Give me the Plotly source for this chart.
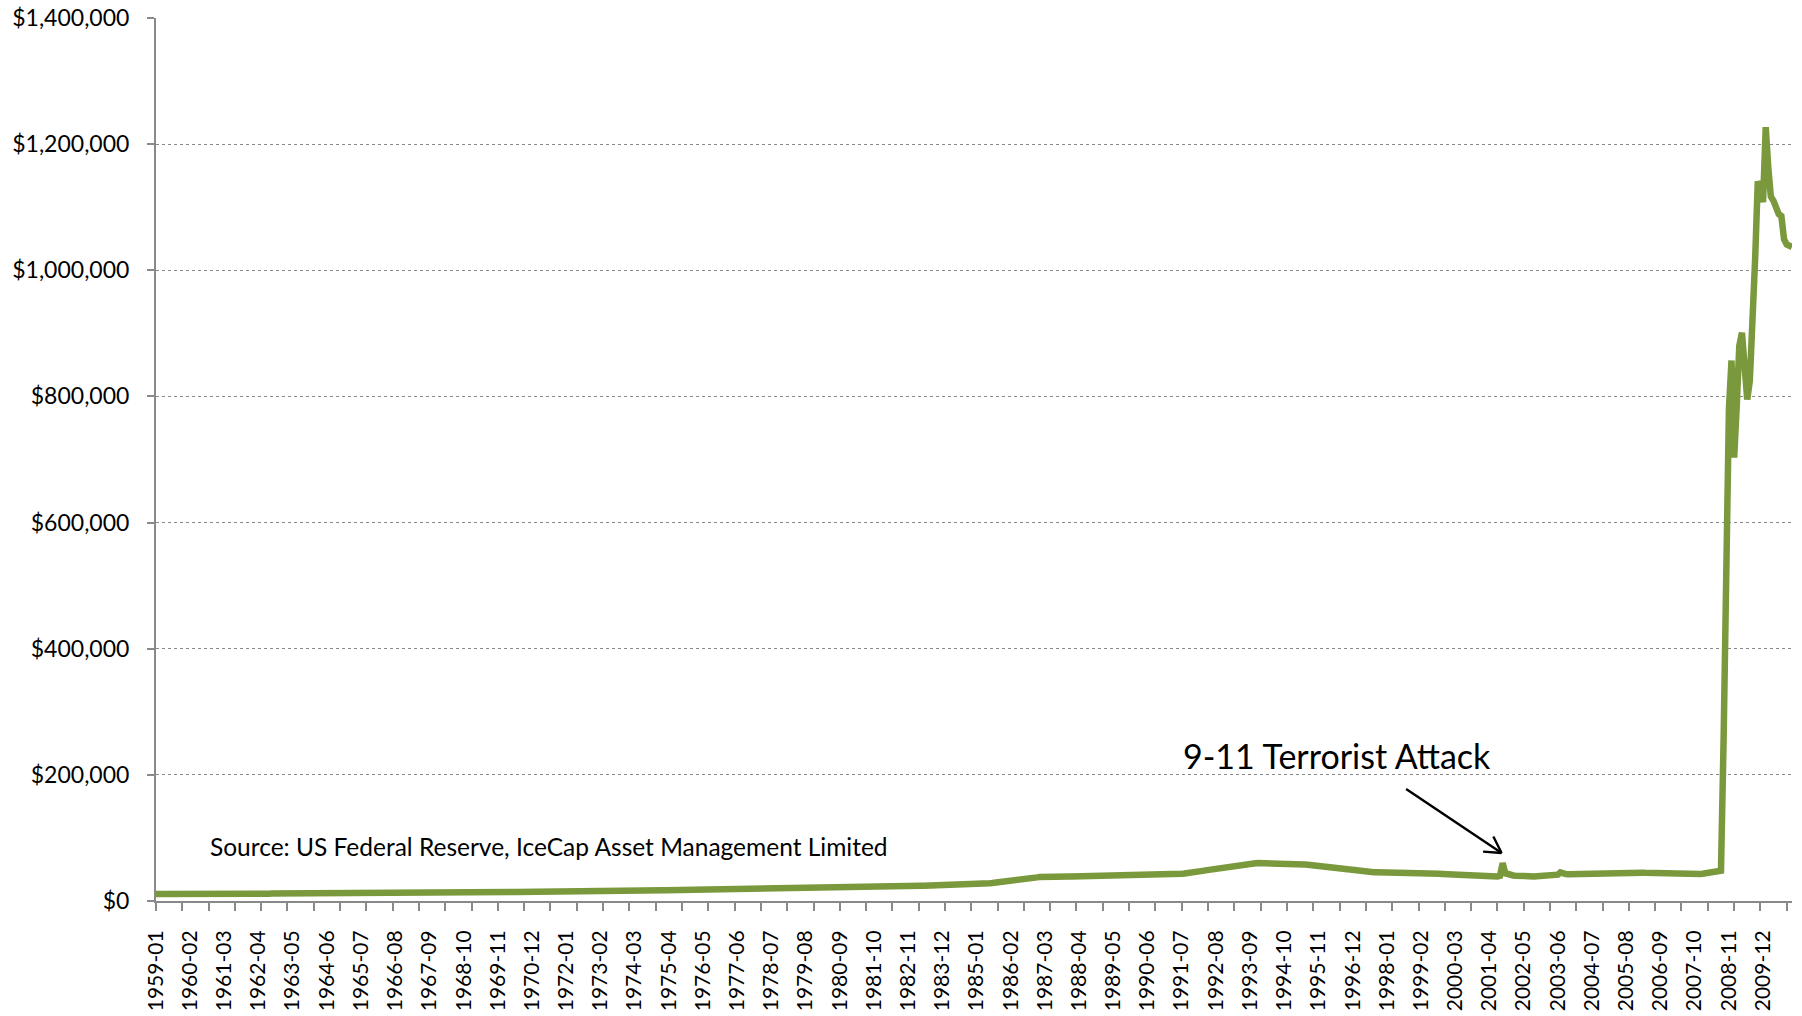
import plotly.graph_objects as go

# Total reserves, $ millions, monthly from 1959-01 to 2010-11
y1959_1969 = [
    11100, 11050, 11000, 11050, 11000, 10950, 11000, 10950, 10900, 10950, 11000, 11050,
    11000, 10900, 10850, 10900, 10850, 10900, 10950, 11050, 11150, 11250, 11350, 11400,
    11300, 11200, 11150, 11200, 11250, 11300, 11300, 11350, 11400, 11450, 11500, 11600,
    11550, 11500, 11500, 11550, 11550, 11600, 11600, 11650, 11700, 11700, 11750, 11800,
    11750, 11700, 11700, 11750, 11800, 11800, 11850, 11850, 11900, 11950, 11950, 12000,
    11950, 11950, 12000, 12000, 12050, 12050, 12100, 12100, 12150, 12200, 12250, 12300,
    12250, 12250, 12300, 12300, 12350, 12350, 12400, 12450, 12450, 12500, 12550, 12600,
    12550, 12500, 12500, 12450, 12450, 12400, 12400, 12350, 12350, 12400, 12450, 12500,
    12550, 12600, 12700, 12750, 12850, 12900, 13000, 13050, 13150, 13200, 13300, 13400,
    13400, 13450, 13500, 13550, 13600, 13650, 13700, 13750, 13850, 13900, 14000, 14100,
    14100, 14050, 14000, 14000, 13950, 13900, 13900, 13850, 13850, 13900, 13950, 14000,
]
y1970_1979 = [
    14000, 14050, 14100, 14200, 14250, 14300, 14400, 14500, 14550, 14650, 14750, 14850,
    14900, 15000, 15100, 15150, 15250, 15350, 15400, 15450, 15500, 15550, 15600, 15700,
    15750, 15800, 15850, 15900, 15950, 16000, 16050, 16100, 16150, 16200, 16300, 16400,
    16350, 16300, 16300, 16350, 16400, 16450, 16500, 16550, 16550, 16600, 16650, 16700,
    16750, 16800, 16850, 16900, 16950, 17000, 17050, 17100, 17150, 17200, 17250, 17300,
    17250, 17200, 17200, 17250, 17300, 17350, 17350, 17400, 17450, 17500, 17550, 17600,
    17600, 17650, 17650, 17700, 17750, 17750, 17800, 17850, 17900, 17950, 18000, 18100,
    18150, 18200, 18250, 18300, 18350, 18400, 18450, 18500, 18550, 18650, 18750, 18850,
    18900, 18950, 19000, 19050, 19100, 19150, 19250, 19350, 19400, 19450, 19550, 19650,
    19700, 19750, 19800, 19850, 19900, 19950, 20000, 20050, 20100, 20150, 20250, 20350,
]
y1980_1989 = [
    20400, 20500, 20550, 20450, 20350, 20450, 20650, 20850, 21000, 21150, 21300, 21450,
    21500, 21400, 21300, 21350, 21450, 21500, 21550, 21600, 21650, 21750, 21850, 22000,
    21950, 21900, 21850, 21850, 21900, 21950, 22000, 22050, 22300, 22650, 23050, 23400,
    23700, 23900, 24050, 24150, 24250, 24300, 24350, 24400, 24450, 24500, 24550, 24650,
    24700, 24750, 24800, 24850, 24900, 24950, 25000, 25100, 25200, 25400, 25700, 26000,
    26300, 26600, 26900, 27200, 27600, 28000, 28400, 28800, 29200, 29600, 30100, 30600,
    31000, 31400, 31800, 32300, 32800, 33300, 33900, 34500, 35100, 35800, 36600, 37500,
    38200, 38500, 38700, 38900, 39100, 39000, 38900, 38800, 38700, 38700, 38800, 38900,
    39000, 39100, 39200, 39300, 39400, 39500, 39600, 39700, 39800, 39900, 40000, 40100,
    40000, 39700, 39400, 39100, 38800, 38600, 38500, 38600, 38800, 39000, 39300, 39600,
]
y1990_1999 = [
    39800, 40000, 40300, 40500, 40700, 40800, 40900, 41000, 41100, 41200, 41300, 41500,
    41700, 41900, 42100, 42300, 42600, 42900, 43200, 43500, 43800, 44200, 44800, 45500,
    46300, 47100, 47800, 48500, 49200, 49900, 50700, 51500, 52300, 53100, 53900, 54700,
    55300, 55900, 56500, 57100, 57700, 58200, 58700, 59100, 59500, 59800, 60000, 60100,
    60100, 60000, 60000, 59900, 59900, 59800, 59800, 59700, 59600, 59500, 59400, 59300,
    59100, 58900, 58700, 58400, 58100, 57800, 57500, 57200, 56900, 56600, 56300, 56000,
    55700, 55300, 54900, 54500, 54000, 53400, 52700, 52000, 51300, 50500, 49800, 49100,
    48400, 47800, 47200, 46700, 46300, 46000, 45800, 45700, 45600, 45600, 45500, 45500,
    45400, 45300, 45300, 45200, 45100, 45000, 44900, 44800, 44700, 44600, 44500, 44400,
    44300, 44200, 44100, 44000, 43900, 43800, 43600, 43400, 43200, 43000, 42800, 42600,
]
y2000_2010 = [
    41800, 41500, 41200, 40900, 40600, 40300, 40000, 39800, 39600, 39400, 39200, 39000,
    38900, 38800, 38700, 38600, 38500, 38700, 38900, 40000, 60000, 44000, 42000, 41000,
    40500, 40000, 39600, 39200, 38900, 38700, 38600, 38800, 39000, 39300, 39600, 39900,
    40200, 40400, 40600, 40800, 41200, 41800, 45500, 43500, 42800, 42600, 42700, 43000,
    43300, 43700, 44100, 44500, 44800, 45100, 45400, 45600, 45700, 45800, 45900, 46000,
    46100, 46000, 46000, 45900, 45800, 45700, 45600, 45500, 45400, 45300, 45200, 45100,
    45000, 44800, 44600, 44400, 44200, 44000, 43800, 43600, 43400, 43200, 43000, 42800,
    42600, 42400, 42200, 42000, 41800, 41600, 41400, 41300, 41400, 41800, 42300, 42800,
    43300, 43800, 44200, 44600, 45000, 46000, 46500, 48000, 260000, 480000, 780000, 857000,
    703000, 790000, 880000, 901000, 850000, 795000, 825000, 905000, 1020000, 1141000, 1130000, 1108000,
    1227000, 1160000, 1117000, 1110000, 1100000, 1089000, 1086000, 1049000, 1041000, 1039000, 1037000,
]
reserves = y1959_1969 + y1970_1979 + y1980_1989 + y1990_1999 + y2000_2010

months = [f"{y}-{m:02d}" for y in range(1959, 2011) for m in range(1, 13)][:len(reserves)]
tick_labels = months[::13]

source_text = "Source: US Federal Reserve, IceCap Asset Management Limited"
event_text = "9-11 Terrorist Attack"

FONT = "Lato, 'Open Sans', sans-serif"
GRAY = "#898989"

fig = go.Figure()
fig.add_trace(go.Scatter(
    x=months, y=reserves, mode="lines",
    line=dict(color="#7A983C", width=6.5),
    hoverinfo="skip", showlegend=False,
))

fig.update_layout(
    width=1802, height=1016,
    margin=dict(l=156, r=10, t=18, b=115, autoexpand=False),
    paper_bgcolor="white", plot_bgcolor="white",
    font=dict(family=FONT, color="black"),
    showlegend=False,
)
fig.update_xaxes(
    type="date", automargin=False,
    range=[months[0] + "-01", months[-1] + "-01"],
    tickmode="array", tickvals=[t + "-01" for t in tick_labels], ticktext=tick_labels,
    tickangle=-90, tickfont=dict(size=21, family=FONT, color="black"),
    ticks="", ticklabelstandoff=19,
    showgrid=False, showline=True, linecolor=GRAY, linewidth=2,
    minor=dict(ticks="outside", dtick="M10", tick0=months[0] + "-01",
               ticklen=8, tickwidth=2, tickcolor=GRAY, showgrid=False),
    zeroline=False,
)
fig.update_yaxes(
    automargin=False,
    range=[0, 1400000], dtick=200000, tick0=0,
    tickprefix="$", tickformat=",.0f",
    tickfont=dict(size=23, family=FONT, color="black"),
    ticks="outside", ticklen=7, tickwidth=2, tickcolor=GRAY,
    ticklabelstandoff=13,
    showline=True, linecolor=GRAY, linewidth=2,
    showgrid=True, gridcolor=GRAY, gridwidth=1.2, griddash="dot",
    zeroline=False,
)

fig.add_annotation(
    xref="paper", yref="paper", x=0.0318, y=0.0612,
    text=source_text, showarrow=False, xanchor="left", yanchor="middle",
    font=dict(size=24.5, family=FONT, color="black"),
)
fig.add_annotation(
    xref="paper", yref="paper", x=0.722, y=0.165,
    text=event_text, showarrow=False, xanchor="center", yanchor="middle",
    font=dict(size=34, family=FONT, color="black"),
)
# arrow: shaft plus two arms forming an open V head at the tip
tip_x, tip_y = 0.8225, 0.0544
for ax_off, ay_off in [(-97, -65), (-9, -18), (-20, -1.5)]:
    fig.add_annotation(
        xref="paper", yref="paper", x=tip_x, y=tip_y,
        text="", showarrow=True, ax=ax_off, ay=ay_off,
        arrowhead=0, arrowwidth=2.4, arrowcolor="black", standoff=0,
    )

fig.write_html("out.html")
